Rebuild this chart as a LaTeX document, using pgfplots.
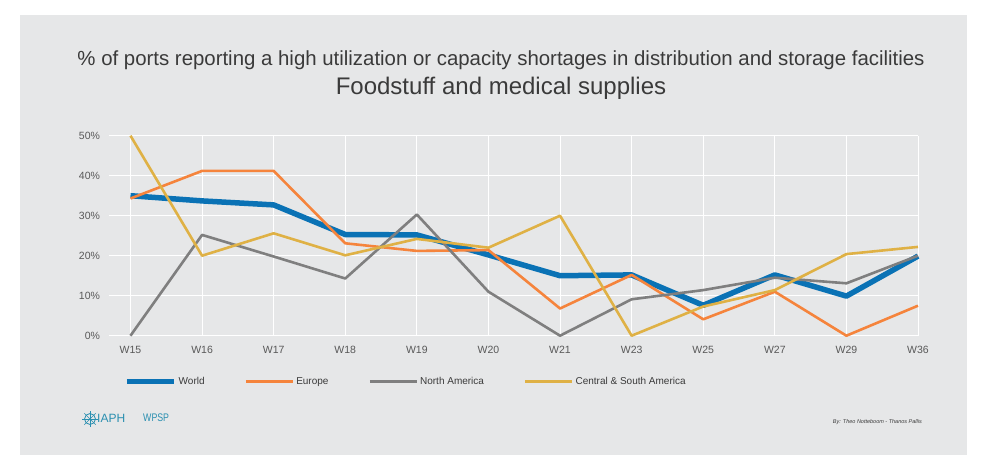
\documentclass[border=0pt]{standalone}
\usepackage{pgfplots}
\pgfplotsset{compat=1.18}
\usepackage{fontspec}
\setmainfont{Liberation Sans}
\definecolor{bg}{HTML}{E6E7E8}
\definecolor{cWorld}{HTML}{0A72B5}
\definecolor{cEurope}{HTML}{F5843C}
\definecolor{cNA}{HTML}{7F7F7F}
\definecolor{cCSA}{HTML}{DFB145}
\definecolor{txt}{HTML}{3A3A3A}
\definecolor{lbl}{HTML}{595959}
\definecolor{teal}{HTML}{2A8FB0}
\begin{document}
\begin{tikzpicture}[x=1pt,y=1pt]
\fill[white] (0,0) rectangle (985,-458);
\fill[bg] (20,-15) rectangle (967,-455);
\node[text=txt, font=\fontsize{20.4}{23}\selectfont] at (501,-60) {\% of ports reporting a high utilization or capacity shortages in distribution and storage facilities};
\node[text=txt, font=\fontsize{24}{28}\selectfont] at (501,-88) {Foodstuff and medical supplies};
\begin{axis}[
  at={(109pt,-335.7pt)}, anchor=south west,
  scale only axis, width=809pt, height=200pt,
  xmin=-0.3, xmax=11, ymin=0, ymax=50,
  clip=false,
  axis line style={draw=none},
  major tick length=0pt, tick style={draw=none},
  grid=major, major grid style={white, line width=1pt},
  xtick={0,...,11},
  xticklabels={W15,W16,W17,W18,W19,W20,W21,W23,W25,W27,W29,W36},
  ytick={0,10,20,30,40,50},
  /pgf/number format/assume math mode=true,
  yticklabel={\pgfmathprintnumber{\tick}\%},
  ticklabel style={font=\fontsize{10.5}{12}\selectfont, text=lbl},
  yticklabel style={xshift=-5.5pt},
  xticklabel style={yshift=-7pt},
  legend columns=4,
  legend style={draw=none, fill=none, at={(axis cs:-0.09,-11.5)}, anchor=west, inner sep=0pt,
    font=\fontsize{10}{12}\selectfont, text=txt,
    /tikz/every even column/.append style={column sep=38pt}},
  legend cell align=left,
  legend image code/.code={\draw[#1] (0pt,0pt) -- (47pt,0pt);},
]
\addplot[cWorld, line width=5.5pt, line join=round] coordinates {
(0,35.0) (1,33.7) (2,32.7) (3,25.3) (4,25.2) (5,20.2) (6,15.0) (7,15.2) (8,7.6) (9,15.2) (10,9.9) (11,19.9)};
\addlegendentry{World}
\addplot[cEurope, line width=2.6pt, line join=round] coordinates {
(0,34.3) (1,41.2) (2,41.2) (3,23.1) (4,21.2) (5,21.4) (6,6.8) (7,15.2) (8,4.1) (9,11.0) (10,0) (11,7.5)};
\addlegendentry{Europe}
\addplot[cNA, line width=2.6pt, line join=round] coordinates {
(0,0) (1,25.2) (2,19.8) (3,14.3) (4,30.3) (5,11.0) (6,0) (7,9.1) (8,11.4) (9,14.5) (10,13.1) (11,20.0)};
\addlegendentry{North America}
\addplot[cCSA, line width=2.6pt, line join=round] coordinates {
(0,50) (1,20) (2,25.6) (3,20.1) (4,24.2) (5,22.0) (6,30) (7,0) (8,7.3) (9,11.4) (10,20.4) (11,22.2)};
\addlegendentry{Central \& South America}
\end{axis}
% footer
\draw[teal, line width=0.8pt] (90,-419) circle (5.5);
\foreach \a in {0,45,...,315} \draw[teal, line width=0.6pt] (90,-419) -- ++(\a:8);
\node[text=teal, font=\fontsize{12}{14}\selectfont, anchor=west, inner sep=0pt] at (97,-418) {IAPH};
\node[text=teal, font=\fontsize{11}{13}\selectfont\addfontfeatures{FakeStretch=0.8}, anchor=west, inner sep=0pt] at (143,-418) {WPSP};
\node[text=txt, font=\fontsize{5.5}{6.5}\selectfont\itshape, anchor=east, inner sep=0pt] at (922,-422) {By: Theo Notteboom - Thanos Pallis};
\end{tikzpicture}
\end{document}
